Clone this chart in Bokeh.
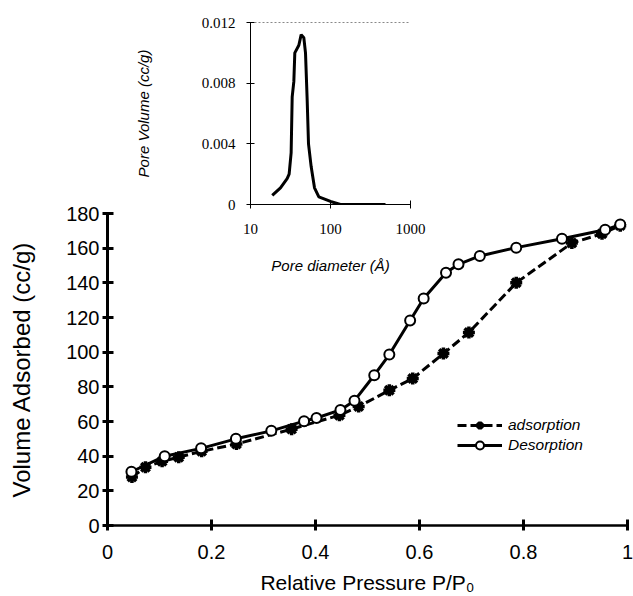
from bokeh.plotting import figure
from bokeh.models import Range1d, FixedTicker, LinearAxis, Legend, LegendItem
from bokeh.layouts import column
from bokeh.embed import file_html
from bokeh.resources import INLINE

# ---------------- data ----------------
ads_p = [0.047, 0.073, 0.105, 0.137, 0.181, 0.248, 0.354, 0.446, 0.483, 0.542,
         0.587, 0.646, 0.695, 0.786, 0.893, 0.951, 0.986]
ads_v = [28.0, 33.6, 37.0, 39.4, 42.8, 47.0, 55.6, 63.6, 68.6, 78.0,
         84.8, 99.2, 111.4, 140.0, 163.0, 168.3, 173.0]

des_p = [0.046, 0.110, 0.180, 0.247, 0.315, 0.378, 0.402, 0.448, 0.475, 0.513,
         0.542, 0.582, 0.608, 0.651, 0.675, 0.716, 0.786, 0.874, 0.957, 0.986]
des_v = [31.0, 40.0, 44.5, 50.0, 54.6, 60.2, 62.0, 66.7, 72.0, 86.7,
         98.6, 118.3, 131.0, 145.8, 150.7, 155.5, 160.3, 165.4, 170.6, 173.6]

pore_d = [18.7, 23.7, 28.7, 30.4, 32.2, 33.2, 34.8, 35.8, 40.2, 43.0,
          46.4, 48.7, 51.1, 53.1, 57.3, 63.1, 71.5, 100, 133, 487]
pore_v = [0.0006, 0.0011, 0.0017, 0.0020, 0.0034, 0.0071, 0.0081, 0.0100, 0.0105, 0.0112,
          0.0110, 0.0100, 0.0069, 0.0040, 0.0025, 0.0011, 0.0005, 0.0002, 0.0, 0.0]

main_x_ticks = [0, 0.2, 0.4, 0.6, 0.8, 1.0]
main_x_labels = ["0", "0.2", "0.4", "0.6", "0.8", "1"]
main_y_ticks = [0, 20, 40, 60, 80, 100, 120, 140, 160, 180]
main_y_labels = ["0", "20", "40", "60", "80", "100", "120", "140", "160", "180"]

inset_x_ticks = [10, 100, 1000]
inset_x_labels = ["10", "100", "1000"]
inset_y_ticks = [0, 0.004, 0.008, 0.012]
inset_y_labels = ["0", "0.004", "0.008", "0.012"]

SANS = "Liberation Sans"
SERIF = "Liberation Serif"

# ---------------- main figure ----------------
p = figure(width=633, height=596, output_backend="svg", toolbar_location=None,
           x_range=Range1d(0, 1), y_range=Range1d(0, 180),
           min_border_left=107, min_border_right=6, min_border_top=213, min_border_bottom=69)
p.outline_line_color = None
p.background_fill_color = "white"
p.border_fill_color = "white"
p.xgrid.grid_line_color = None
p.ygrid.grid_line_color = None

for ax, ticks, labels in ((p.xaxis[0], main_x_ticks, main_x_labels),
                          (p.yaxis[0], main_y_ticks, main_y_labels)):
    ax.ticker = FixedTicker(ticks=ticks)
    ax.major_label_overrides = {t: l for t, l in zip(ticks, labels)}
    ax.minor_tick_line_color = None
    ax.major_tick_in = 6
    ax.major_tick_out = 5
    ax.major_tick_line_width = 3
    ax.major_tick_line_color = "black"
    ax.axis_line_color = "black"
    ax.major_label_text_font = SANS
    ax.major_label_text_font_size = "20px"
    ax.major_label_text_color = "black"
    ax.axis_label_text_font = SANS
    ax.axis_label_text_font_style = "normal"
    ax.axis_label_text_color = "black"

p.yaxis[0].axis_line_width = 3
p.xaxis[0].axis_line_width = 2.5
p.yaxis[0].axis_label = "Volume Adsorbed (cc/g)"
p.yaxis[0].axis_label_text_font_size = "24px"
p.yaxis[0].major_label_standoff = 3
p.yaxis[0].axis_label_standoff = 28
p.xaxis[0].axis_label = "Relative Pressure P/P\u2080"
p.xaxis[0].axis_label_text_font_size = "21px"
p.xaxis[0].major_label_standoff = 14
p.xaxis[0].axis_label_standoff = 9

r_al = p.line(ads_p, ads_v, line_color="black", line_width=3, line_dash="9 4")
r_as = p.scatter(ads_p, ads_v, marker="asterisk", size=12, line_color="black", line_width=3.5)
r_dl = p.line(des_p, des_v, line_color="black", line_width=3)
r_ds = p.scatter(des_p, des_v, marker="circle", size=10, fill_color="white",
                 line_color="black", line_width=2)

legend = Legend(items=[LegendItem(label="adsorption", renderers=[r_al, r_as]),
                       LegendItem(label="Desorption", renderers=[r_dl, r_ds])],
                location=(350, 70), padding=0, margin=0, spacing=0,
                glyph_width=45, glyph_height=20, label_height=20, label_standoff=6,
                label_text_font=SANS, label_text_font_style="italic",
                label_text_font_size="15.5px", label_text_color="black",
                border_line_color=None, background_fill_alpha=0)
p.add_layout(legend)

# ---------------- inset figure ----------------
q = figure(width=295, height=280, output_backend="svg", toolbar_location=None,
           x_axis_type="log", x_range=Range1d(10, 1000), y_range=Range1d(0, 0.012),
           min_border_left=119, min_border_right=16, min_border_top=22, min_border_bottom=76)
q.outline_line_color = None
q.background_fill_alpha = 0
q.border_fill_alpha = 0
q.xgrid.grid_line_color = None
q.ygrid.grid_line_color = None

for ax, ticks, labels in ((q.xaxis[0], inset_x_ticks, inset_x_labels),
                          (q.yaxis[0], inset_y_ticks, inset_y_labels)):
    ax.ticker = FixedTicker(ticks=ticks)
    ax.major_label_overrides = {t: l for t, l in zip(ticks, labels)}
    ax.minor_tick_line_color = None
    ax.major_tick_in = 4
    ax.major_tick_out = 4
    ax.major_tick_line_color = "black"
    ax.axis_line_color = "black"
    ax.axis_line_width = 1
    ax.major_label_text_font = SERIF
    ax.major_label_text_font_size = "15px"
    ax.major_label_text_color = "black"
    ax.axis_label_text_font = SANS
    ax.axis_label_text_font_style = "italic"
    ax.axis_label_text_font_size = "15px"
    ax.axis_label_text_color = "black"

q.yaxis[0].axis_label = "Pore Volume (cc/g)"
q.yaxis[0].major_label_standoff = 11
q.yaxis[0].axis_label_standoff = 47
q.xaxis[0].axis_label = "Pore diameter (\u00c5)"
q.xaxis[0].major_label_standoff = 15
q.xaxis[0].axis_label_standoff = 20

top_axis = LinearAxis(ticker=FixedTicker(ticks=[]), axis_line_color="#888888",
                      axis_line_dash="2 2", axis_line_width=1,
                      major_tick_line_color=None, minor_tick_line_color=None,
                      major_label_text_font_size="0px")
q.add_layout(top_axis, "above")

q.line(pore_d, pore_v, line_color="black", line_width=3)

inset_box = column(q, margin=(-596, 0, 0, 131))
layout = column(p, inset_box)
open("out.html", "w").write(file_html(layout, INLINE))
